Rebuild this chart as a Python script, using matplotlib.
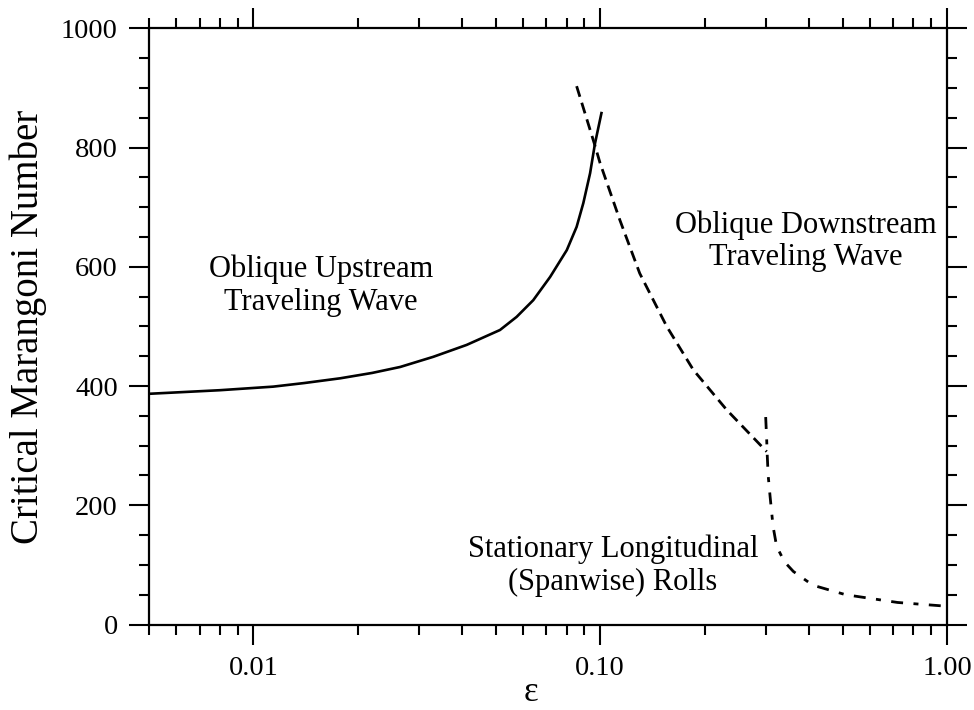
import numpy as np
import matplotlib
matplotlib.use('Agg')
import matplotlib.pyplot as plt
from matplotlib.ticker import FixedLocator, FixedFormatter, MultipleLocator, LogLocator

plt.rcParams['font.family'] = 'Liberation Serif'
plt.rcParams['lines.scale_dashes'] = False

# oblique upstream traveling wave (solid)
up_eps = [0.005, 0.008, 0.0114, 0.014, 0.0178, 0.022, 0.0265, 0.033, 0.0412,
          0.0514, 0.0574, 0.0641, 0.0717, 0.0801, 0.0855, 0.0894, 0.0935,
          0.0966, 0.101]
up_ma = [387, 393, 399, 405, 413, 422, 432, 449, 469,
         494, 516, 544, 583, 628, 667, 707, 757,
         807, 860]

# oblique downstream traveling wave (dashed)
down_eps = [0.0855, 0.0966, 0.0999, 0.114, 0.130, 0.1555, 0.1856, 0.2316, 0.302]
down_ma = [903, 803, 774, 678, 589, 500, 427, 360, 290]

# stationary longitudinal rolls (long-short dash)
roll_eps = [0.300, 0.302, 0.303, 0.305, 0.309, 0.315, 0.3226, 0.34, 0.3605,
            0.41, 0.51, 0.72, 0.98, 1.0]
roll_ma = [348, 310, 286, 250, 214, 165, 131, 105, 89, 66, 50, 37, 31, 30]

fig = plt.figure(figsize=(9.74, 7.10), dpi=100)
ax = fig.add_axes([0.153, 0.1204, 0.8193, 0.8397])

ax.plot(up_eps, up_ma, color='black', lw=1.9, solid_capstyle='butt')
ax.plot(down_eps, down_ma, color='black', lw=2.0, dashes=(8, 4.5), dash_capstyle='butt')
ax.plot(roll_eps, roll_ma, color='black', lw=2.0, dashes=(8.6, 7.5, 3.6, 7.5), dash_capstyle='butt')

ax.set_xscale('log')
ax.set_xlim(0.005, 1.0)
ax.set_ylim(0, 1000)

ax.xaxis.set_major_locator(FixedLocator([0.01, 0.1, 1.0]))
ax.xaxis.set_major_formatter(FixedFormatter(['0.01', '0.10', '1.00']))
ax.xaxis.set_minor_locator(LogLocator(base=10, subs=np.arange(2, 10)))
ax.xaxis.set_minor_formatter(FixedFormatter([]))
ax.yaxis.set_major_locator(MultipleLocator(200))
ax.yaxis.set_minor_locator(MultipleLocator(50))

for s in ax.spines.values():
    s.set_linewidth(1.6)
ax.tick_params(which='both', direction='out', top=True, right=True,
               labeltop=False, labelright=False, width=1.5, labelsize=20.5, pad=8)
ax.tick_params(which='major', length=14.4)
ax.tick_params(which='minor', length=7.2)

ax.set_ylabel('Critical Marangoni Number', fontsize=28, labelpad=10)
ax.set_xlabel('ε', fontsize=25, va='baseline', ha='center')
ax.xaxis.set_label_coords(0.4787, -0.1275)

ax.text(0.01567, 568, 'Oblique Upstream\nTraveling Wave', fontsize=22,
        ha='center', va='center', linespacing=1.15)
ax.text(0.392, 643, 'Oblique Downstream\nTraveling Wave', fontsize=22,
        ha='center', va='center', linespacing=1.15)
ax.text(0.1089, 98.5, 'Stationary Longitudinal\n(Spanwise) Rolls', fontsize=22,
        ha='center', va='center', linespacing=1.15)

fig.savefig('out.png', dpi=100)
